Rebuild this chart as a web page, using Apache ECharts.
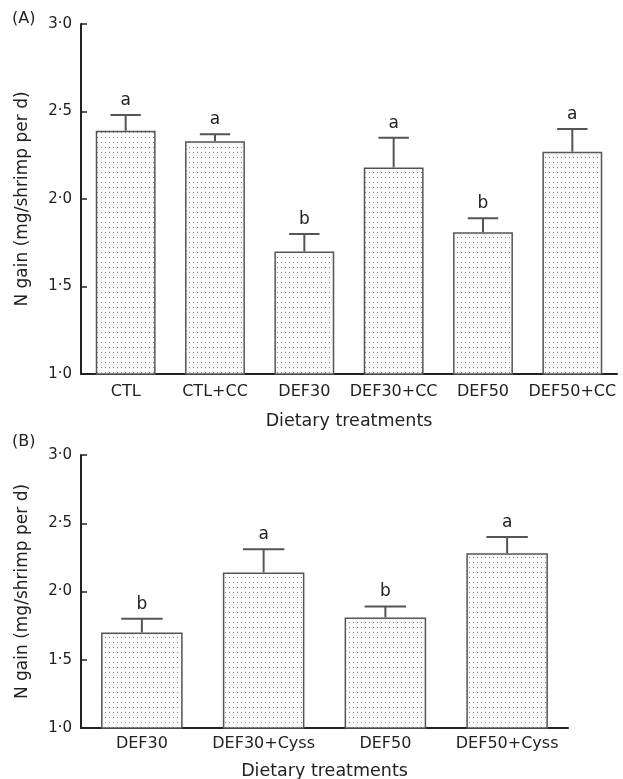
<!DOCTYPE html>
<html><head><meta charset="utf-8">
<script src="https://cdn.jsdelivr.net/npm/echarts@6/dist/echarts.min.js"></script>
<style>html,body{margin:0;padding:0;background:#fff}#c{width:623px;height:779px}</style>
</head><body><div id="c"></div>
<script>
// Panel A
const catsA = ['CTL', 'CTL+CC', 'DEF30', 'DEF30+CC', 'DEF50', 'DEF50+CC'];
const meansA = [2.39, 2.33, 1.70, 2.18, 1.81, 2.27];
const errA = [0.09, 0.04, 0.10, 0.17, 0.08, 0.13];
const letA = ['a', 'a', 'b', 'a', 'b', 'a'];
// Panel B
const catsB = ['DEF30', 'DEF30+Cyss', 'DEF50', 'DEF50+Cyss'];
const meansB = [1.70, 2.14, 1.81, 2.28];
const errB = [0.10, 0.17, 0.08, 0.12];
const letB = ['b', 'a', 'b', 'a'];
const yTicks = [1.0, 1.5, 2.0, 2.5, 3.0];

const FONT = 'DejaVu Sans';
const pat = document.createElement('canvas');
pat.width = 4; pat.height = 5;
const pc = pat.getContext('2d');
pc.fillStyle = '#fbfbfb'; pc.fillRect(0, 0, 4, 5);
pc.fillStyle = '#8a8a8a'; pc.fillRect(1, 2, 1, 1);

const chart = echarts.init(document.getElementById('c'), null, {renderer: 'canvas'});
const fmt = v => v.toFixed(1).replace('.', '\u00B7');

function yAx(gi) {
  return {
    gridIndex: gi, type: 'value', min: yTicks[0], max: yTicks[yTicks.length - 1], interval: 0.5,
    name: 'N gain (mg/shrimp per d)', nameLocation: 'middle', nameGap: 50,
    nameTextStyle: {fontFamily: FONT, fontSize: 17, color: '#222'},
    axisLine: {show: true, lineStyle: {color: '#222', width: 2}},
    axisTick: {show: true, inside: true, length: 6, lineStyle: {color: '#222', width: 1.5}},
    axisLabel: {formatter: fmt, fontFamily: FONT, fontSize: 15, color: '#222', margin: 9},
    splitLine: {show: false}
  };
}
function xAx(gi, cats, gap, margin) {
  return {
    gridIndex: gi, type: 'category', data: cats,
    name: 'Dietary treatments', nameLocation: 'middle', nameGap: gap,
    nameTextStyle: {fontFamily: FONT, fontSize: 17.5, color: '#222'},
    axisLine: {lineStyle: {color: '#222', width: 2}},
    axisTick: {show: true, inside: true, alignWithLabel: true, length: 5, lineStyle: {color: '#555', width: 1.5}},
    axisLabel: {fontFamily: FONT, fontSize: 16, color: '#222', margin: margin, interval: 0}
  };
}
function errSeries(gi, means, errs, lets) {
  return {
    type: 'custom', xAxisIndex: gi, yAxisIndex: gi, z: 5,
    data: means.map((m, i) => [i, m, m + errs[i]]),
    renderItem: (params, api) => {
      const idx = api.value(0);
      const base = api.coord([idx, api.value(1)]);
      const top = api.coord([idx, api.value(2)]);
      const bw = api.size([1, 0])[0] * 0.34 / 2;
      const st = {stroke: '#555', lineWidth: 2};
      return {type: 'group', children: [
        {type: 'line', shape: {x1: base[0], y1: base[1], x2: top[0], y2: top[1]}, style: st},
        {type: 'line', shape: {x1: top[0] - bw, y1: top[1], x2: top[0] + bw, y2: top[1]}, style: st},
        {type: 'text', x: top[0], y: top[1] - 6, style: {text: lets[params.dataIndex], fontFamily: FONT, fontSize: 17, fill: '#222', align: 'center', verticalAlign: 'bottom'}}
      ]};
    }
  };
}
function barSeries(gi, means) {
  return {
    type: 'bar', xAxisIndex: gi, yAxisIndex: gi, data: means, barWidth: '67%',
    itemStyle: {color: {image: pat, repeat: 'repeat'}, borderColor: '#555', borderWidth: 1.5},
    silent: true
  };
}
chart.setOption({
  animation: false,
  grid: [
    {left: 81, top: 24, width: 536, height: 350, outerBoundsMode: 'none', containLabel: false},
    {left: 81, top: 455, width: 487, height: 273, outerBoundsMode: 'none', containLabel: false}
  ],
  xAxis: [xAx(0, catsA, 38, 10), xAx(1, catsB, 34, 8)],
  yAxis: [yAx(0), yAx(1)],
  series: [barSeries(0, meansA), errSeries(0, meansA, errA, letA), barSeries(1, meansB), errSeries(1, meansB, errB, letB)],
  graphic: [
    {type: 'text', left: 12, top: 11, style: {text: '(A)', fontFamily: FONT, fontSize: 16, fill: '#222'}},
    {type: 'text', left: 12, top: 434, style: {text: '(B)', fontFamily: FONT, fontSize: 16, fill: '#222'}}
  ]
});
</script></body></html>
